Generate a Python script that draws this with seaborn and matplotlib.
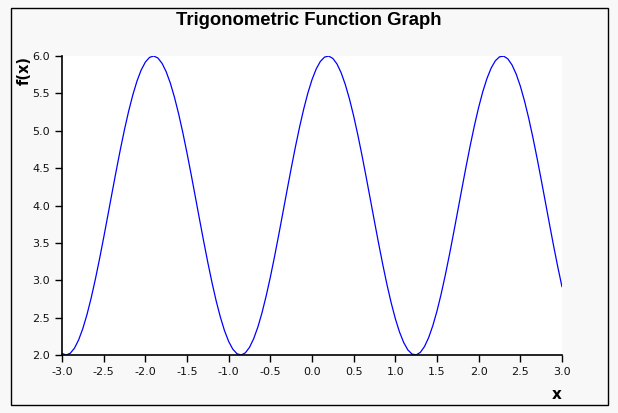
"""Trigonometric function graph."""
import matplotlib
matplotlib.use("Agg")
import matplotlib.pyplot as plt
from matplotlib.patches import Rectangle
from matplotlib.ticker import FormatStrFormatter, MultipleLocator
import numpy as np
import pandas as pd
import seaborn as sns

# x from -3.0 to 3.0 in steps of 0.05
x_start, x_step, n_points = -3.0, 0.05, 121
x_values = np.round(x_start + x_step * np.arange(n_points), 2)

# f(x)
f_values = [
    2.021, 2.000, 2.024, 2.092, 2.203, 2.354, 2.542, 2.763, 3.012, 3.283, 3.570,
    3.866, 4.166, 4.462, 4.748, 5.017, 5.263, 5.480, 5.665, 5.812, 5.918, 5.981,
    6.000, 5.974, 5.903, 5.790, 5.637, 5.446, 5.224, 4.974, 4.702, 4.414, 4.117,
    3.817, 3.522, 3.237, 2.969, 2.724, 2.509, 2.326, 2.181, 2.077, 2.017, 2.000,
    2.029, 2.102, 2.218, 2.373, 2.565, 2.790, 3.041, 3.314, 3.603, 3.900, 4.200,
    4.495, 4.779, 5.045, 5.288, 5.503, 5.683, 5.826, 5.927, 5.985, 5.999, 5.968,
    5.893, 5.775, 5.617, 5.423, 5.197, 4.944, 4.670, 4.381, 4.083, 3.784, 3.489,
    3.206, 2.940, 2.699, 2.486, 2.308, 2.168, 2.068, 2.013, 2.001, 2.035, 2.113,
    2.233, 2.393, 2.589, 2.817, 3.071, 3.346, 3.636, 3.934, 4.233, 4.527, 4.810,
    5.074, 5.314, 5.525, 5.701, 5.839, 5.936, 5.989, 5.998, 5.962, 5.881, 5.759,
    5.597, 5.399, 5.170, 4.914, 4.638, 4.348, 4.050, 3.750, 3.456, 3.175, 2.912,
]

df = pd.DataFrame({"x": x_values, "f": f_values})

sns.set_style("ticks")
plt.rcParams['font.family'] = ['DejaVu Sans']
plt.rcParams['axes.unicode_minus'] = False

W, H = 618, 413
fig = plt.figure(figsize=(W / 100, H / 100), dpi=100, facecolor="#f8f8f8")
ax = fig.add_axes([62 / W, 1 - 355 / H, 500 / W, 299 / H])
ax.set_facecolor("white")

# Outer frame
fig.patches.append(Rectangle((11 / W, 8 / H), 597 / W, 397 / H, transform=fig.transFigure,
                             fill=False, edgecolor="black", linewidth=1.0))

sns.lineplot(data=df, x="x", y="f", ax=ax, color="#0000ff", linewidth=0.9)

ax.set_xlim(-3, 3)
ax.set_ylim(2, 6)
ax.xaxis.set_major_locator(MultipleLocator(0.5))
ax.yaxis.set_major_locator(MultipleLocator(0.5))
ax.xaxis.set_major_formatter(FormatStrFormatter("%.1f"))
ax.yaxis.set_major_formatter(FormatStrFormatter("%.1f"))
ax.tick_params(labelsize=8, length=5, width=1, colors="black", labelcolor="#111111")

for side in ["top", "right"]:
    ax.spines[side].set_visible(False)
for side in ["left", "bottom"]:
    ax.spines[side].set_linewidth(1.2)
    ax.spines[side].set_color("black")

ax.set_xlabel("x", fontsize=11, fontweight="bold", loc="right", labelpad=7, color="black")
ax.set_ylabel("f(x)", fontsize=10.5, fontweight="bold", loc="top", labelpad=0.5, color="black")

fig.text(0.5, 1 - 20.5 / H, "Trigonometric Function Graph", ha="center", va="center",
         fontsize=13.3, fontweight="bold", family="Liberation Sans", color="black")

fig.savefig("out.png", dpi=100, facecolor=fig.get_facecolor())
